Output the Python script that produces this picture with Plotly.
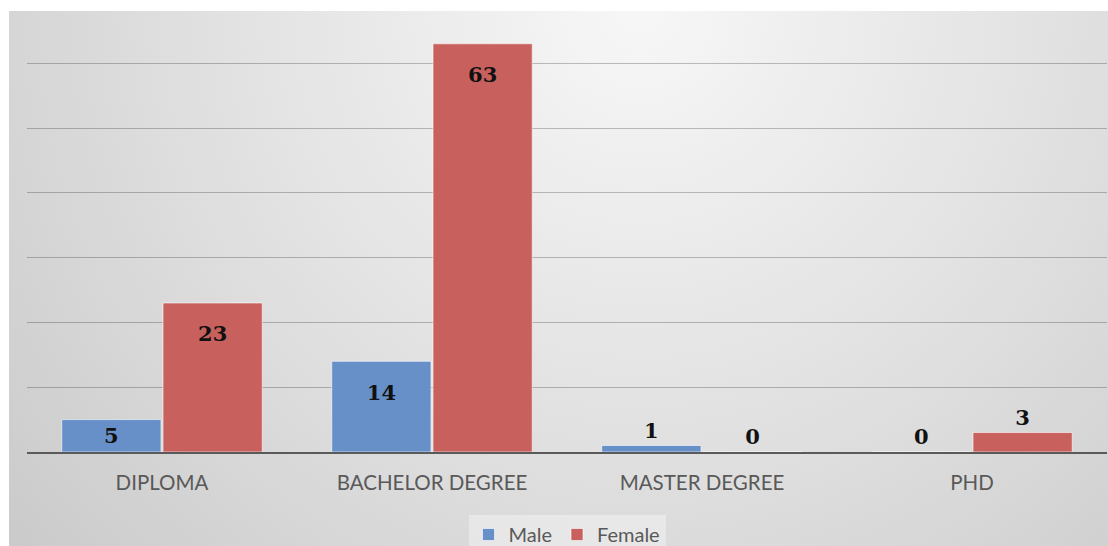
import base64
import plotly.graph_objects as go

categories = ["DIPLOMA", "BACHELOR DEGREE", "MASTER DEGREE", "PHD"]
male = [5, 14, 1, 0]
female = [23, 63, 0, 3]
series_names = ["Male", "Female"]

W, H = 1108, 546
ML, MR, MT, MB = 27, 1, 11, 94
plot_h = H - MT - MB
ymax = 68.06

# background gradient (Excel-like radial)
bg_w, bg_h = W - 9, H - 11
svg = f'''<svg xmlns="http://www.w3.org/2000/svg" width="{bg_w}" height="{bg_h}" preserveAspectRatio="none">
<defs><radialGradient id="g" gradientUnits="userSpaceOnUse" cx="630" cy="0" r="850">
<stop offset="0" stop-color="#f7f7f7"/><stop offset="0.5" stop-color="#e1e1e1"/><stop offset="1" stop-color="#c9c9c9"/>
</radialGradient></defs><rect width="{bg_w}" height="{bg_h}" fill="url(#g)"/></svg>'''
src = "data:image/svg+xml;base64," + base64.b64encode(svg.encode()).decode()

def positions(vals):
    return ["inside" if v >= 5 else "outside" for v in vals]

def templates(vals):
    # tall bars: label sits a little lower inside the bar end (Excel "inside end")
    return ["<span style='font-size:8px'> </span><br>%{y}" if v >= 10 else "%{y}" for v in vals]

label_font = dict(family="DejaVu Serif", size=21, color="#111111", weight="bold")
bar_line = dict(color="rgba(255,255,255,0.6)", width=1)

fig = go.Figure()
fig.add_bar(x=categories, y=male, name=series_names[0], marker=dict(color="#6790c8", line=bar_line),
            texttemplate=templates(male), textposition=positions(male), insidetextanchor="end",
            textfont=label_font, constraintext="none", cliponaxis=False)
fig.add_bar(x=categories, y=female, name=series_names[1], marker=dict(color="#c8615e", line=bar_line),
            texttemplate=templates(female), textposition=positions(female), insidetextanchor="end",
            textfont=label_font, constraintext="none", cliponaxis=False)

fig.update_layout(
    width=W, height=H,
    margin=dict(l=ML, r=MR, t=MT, b=MB, pad=0, autoexpand=False),
    paper_bgcolor="white", plot_bgcolor="rgba(0,0,0,0)",
    barmode="group", bargap=0.25, bargroupgap=0.02,
    showlegend=True,
    legend=dict(orientation="h", x=0.5, xanchor="center", yref="container", y=1 - 515 / H, yanchor="top",
                bgcolor="rgba(255,255,255,0.35)", font=dict(family="Lato", size=20, color="#595959"),
                itemwidth=30, tracegroupgap=0),
    images=[dict(source=src, xref="paper", yref="paper", x=(9 - ML) / (W - ML - MR), y=1.0,
                 sizex=bg_w / (W - ML - MR), sizey=bg_h / plot_h, sizing="stretch", layer="below",
                 xanchor="left", yanchor="top")],
    xaxis=dict(showgrid=False, showline=True, linecolor="#5a5a5a", linewidth=2,
               tickfont=dict(family="Lato", size=20.5, color="#595959"), ticks="", ticklabelstandoff=11),
    yaxis=dict(range=[0, ymax], dtick=10, showgrid=True, gridcolor="rgba(0,0,0,0.24)", gridwidth=1,
               showticklabels=False, zeroline=False, showline=False),
)

fig.write_html("out.html")
